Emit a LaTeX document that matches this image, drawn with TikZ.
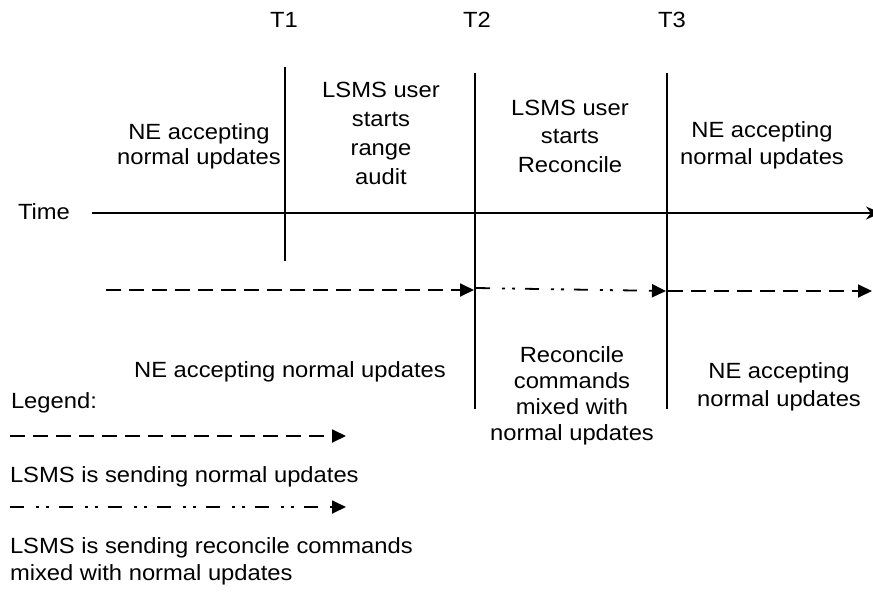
\documentclass[tikz,border=0pt]{standalone}
\usepackage{fontspec}
\setmainfont{Liberation Sans}[FakeStretch=1.08]
\usetikzlibrary{arrows.meta}
\begin{document}
\begin{tikzpicture}[x=1pt,y=-1pt,
  every node/.style={inner sep=0pt,outer sep=0pt},
  txt/.style={font=\fontsize{22}{27}\selectfont,align=center,anchor=base},
  ltxt/.style={font=\fontsize{22}{27}\selectfont,align=left,anchor=base west},
  timeline/.style={line width=1.8pt},
  tri/.style={-{Triangle[length=14pt,width=13pt]}},
  normalflow/.style={line width=1.8pt,dash pattern=on 15pt off 8pt,tri},
  reconflow/.style={line width=1.8pt,dash pattern=on 14pt off 12pt on 3pt off 7pt on 3pt off 10pt,tri}]
\useasboundingbox (0,0) rectangle (873,592);
% time marks
\node[txt] (T1) at (284,27) {T1};
\node[txt] (T2) at (477,27) {T2};
\node[txt] (T3) at (672,27) {T3};
\coordinate (t1a) at (285,67);  \coordinate (t1b) at (285,261);
\coordinate (t2a) at (475,73);  \coordinate (t2b) at (475,409);
\coordinate (t3a) at (667,73);  \coordinate (t3b) at (667,409);
\draw[timeline] (t1a) -- (t1b);
\draw[timeline] (t2a) -- (t2b);
\draw[timeline] (t3a) -- (t3b);
% time axis
\node[txt] (time) at (44,219) {Time};
\coordinate (axa) at (92,213); \coordinate (axb) at (881,213);
\draw[line width=1.8pt,-{Stealth[length=15pt,width=13pt]}] (axa) -- (axb);
% upper texts (anchor = baseline of last line)
\node[txt,font=\fontsize{22}{25}\selectfont] (up1) at (199,164) {NE accepting\\normal updates};
\node[txt,font=\fontsize{22}{28.7}\selectfont] (up2) at (381,184) {LSMS user\\starts\\range\\audit};
\node[txt,font=\fontsize{22}{28.5}\selectfont] (up3) at (570,172) {LSMS user\\starts\\Reconcile};
\node[txt] (up4) at (762,164) {NE accepting\\normal updates};
% flows
\coordinate (f1a) at (106,290); \coordinate (f1b) at (474,290);
\coordinate (f2a) at (476,288); \coordinate (f2b) at (666,291);
\coordinate (f3a) at (668,291); \coordinate (f3b) at (872,291);
\draw[normalflow] (f1a) -- (f1b);
\draw[reconflow] (f2a) -- (f2b);
\draw[normalflow] (f3a) -- (f3b);
% lower texts
\node[txt] (lo1) at (290,377) {NE accepting normal updates};
\node[txt,font=\fontsize{22}{26}\selectfont] (lo2) at (572,440) {Reconcile\\commands\\mixed with\\normal updates};
\node[txt,font=\fontsize{22}{28}\selectfont] (lo3) at (779,406) {NE accepting\\normal updates};
% legend
\node[ltxt] (leg) at (11,408) {Legend:};
\coordinate (l1a) at (10,436); \coordinate (l1b) at (346,436);
\draw[normalflow] (l1a) -- (l1b);
\node[ltxt] (leg1) at (10,482) {LSMS is sending normal updates};
\coordinate (l2a) at (10,507); \coordinate (l2b) at (346,507);
\draw[reconflow] (l2a) -- (l2b);
\node[ltxt] (leg2) at (10,580) {LSMS is sending reconcile commands\\mixed with normal updates};
\end{tikzpicture}
\end{document}
